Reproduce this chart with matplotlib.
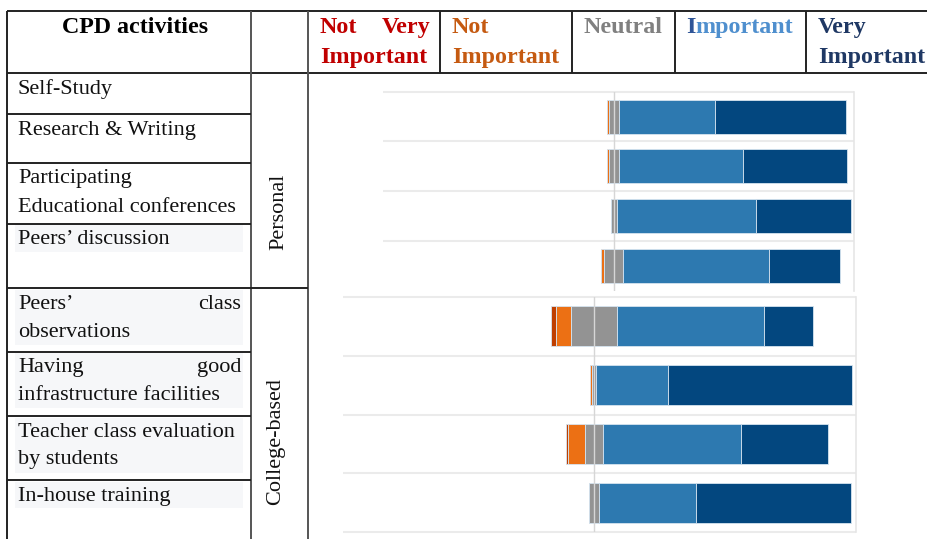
import numpy as np
import matplotlib
matplotlib.use("Agg")
import matplotlib.pyplot as plt
from matplotlib.patches import Rectangle

# ---------------- data (percent of respondents) ----------------
levels = ["Not Very Important", "Not Important", "Neutral", "Important", "Very Important"]
bar_colors = ["#BF3F00", "#EC7014", "#939393", "#2D79B0", "#03477F"]
head_colors = ["#C00000", "#C55A11", "#808080", "#4F8FCE", "#1F3864"]

groups = ["Personal", "College-based"]

personal_items = ["Self-Study", "Research & Writing",
                  "Participating Educational conferences", "Peers\u2019 discussion"]
personal_nvi = [0.0, 0.0, 0.0, 0.0]
personal_ni = [0.9, 0.8, 0.0, 1.5]
personal_neu = [4.3, 3.8, 2.5, 7.9]
personal_imp = [40.2, 52.1, 58.0, 60.6]
personal_vimp = [54.6, 43.3, 39.5, 30.0]

college_items = ["Peers\u2019 class observations", "Having good infrastructure facilities",
                 "Teacher class evaluation by students", "In-house training"]
college_nvi = [1.9, 0.0, 0.8, 0.0]
college_ni = [6.0, 0.8, 6.5, 0.0]
college_neu = [17.2, 1.3, 6.8, 4.0]
college_imp = [56.4, 27.7, 52.8, 36.8]
college_vimp = [18.5, 70.2, 33.1, 59.2]

# ---------------- figure ----------------
W, H = 927, 539
fig = plt.figure(figsize=(W / 100, H / 100), dpi=100)
fig.patch.set_facecolor("white")

ax0 = fig.add_axes([0, 0, 1, 1])
ax0.set_xlim(0, W)
ax0.set_ylim(H, 0)
ax0.axis("off")

SERIF = ["Liberation Serif", "DejaVu Serif"]
BODY = 16
HEAD = 17.3

lc = "#222222"
lw = 1.4


def hline(y, x0, x1, color=lc):
    ax0.plot([x0, x1], [y, y], color=color, lw=lw, solid_capstyle="butt")


def vline(x, y0, y1, color=lc):
    ax0.plot([x, x], [y0, y1], color=color, lw=lw, solid_capstyle="butt")


# light backgrounds behind some cells' text
for (y0, y1) in [(224, 252), (290, 345), (353, 408), (418, 473), (482, 508)]:
    ax0.add_patch(Rectangle((15, y0), 228, y1 - y0, facecolor="#F6F7F9",
                            edgecolor="none", zorder=0))

# table grid
hline(10.5, 7, W)
hline(72.5, 7, W)
for x in [440, 572, 675, 806]:
    vline(x, 10.5, 72.5)
vline(7, 10.5, H)
vline(251, 10.5, H, color="#555555")
vline(308, 10.5, H, color="#555555")
for y in [114, 163, 224, 352, 416, 480]:
    hline(y, 7, 251)
hline(288, 7, 308)


def head(x, y, s, color, ha="left"):
    return ax0.text(x, y, s, family=SERIF, fontsize=HEAD, fontweight="bold",
                    ha=ha, va="baseline", color=color)


# header texts
head(135, 33, "CPD activities", "black", ha="center")
head(320, 33, "Not", head_colors[0])
head(430, 33, "Very", head_colors[0], ha="right")
head(320, 63, "Important", head_colors[0])
head(452, 33, "Not", head_colors[1])
head(452, 63, "Important", head_colors[1])
head(584, 33, "Neutral", head_colors[2])
t_i = head(686, 33, "I", "#2F5597")
renderer = fig.canvas.get_renderer()
x_after = t_i.get_window_extent(renderer=renderer).x1
head(x_after, 33, "mportant", head_colors[3])
head(818, 33, "Very", head_colors[4])
head(818, 63, "Important", head_colors[4])


# row label texts
def body(x, y, s, ha="left"):
    ax0.text(x, y, s, family=SERIF, fontsize=BODY, ha=ha, va="baseline", color="#111111")


LX, RX = 18, 241
body(LX, 94, "Self-Study")
body(LX, 135, "Research & Writing")
body(LX, 183, "Participating")
body(LX, 212, "Educational conferences")
body(LX, 244, "Peers\u2019 discussion")
body(LX, 309, "Peers\u2019")
body(RX, 309, "class", ha="right")
body(LX, 337, "observations")
body(LX, 372, "Having")
body(RX, 372, "good", ha="right")
body(LX, 400, "infrastructure facilities")
body(LX, 437, "Teacher class evaluation")
body(LX, 464, "by students")
body(LX, 501, "In-house training")

ax0.text(279, 212, groups[0], family=SERIF, fontsize=BODY, rotation=90,
         ha="center", va="center", color="#111111")
ax0.text(276, 442, groups[1], family=SERIF, fontsize=BODY, rotation=90,
         ha="center", va="center", color="#111111")


# ---------------- charts ----------------
def px_axes(x0, y0, x1, y1):
    return fig.add_axes([x0 / W, 1 - y1 / H, (x1 - x0) / W, (y1 - y0) / H])


def draw(ax, series, xlim, bar_h, bounds):
    series = [np.asarray(s, dtype=float) for s in series]
    n = len(series[0])
    y = np.arange(n)
    left = -(series[0] + series[1] + series[2] / 2.0)
    for s, c in zip(series, bar_colors):
        ax.barh(y, s, left=left, height=bar_h, color=c, edgecolor="#D6E4F0",
                linewidth=0.6, zorder=2)
        left = left + s
    ax.set_ylim(n - 0.5, -0.5)
    ax.set_xlim(*xlim)
    ax.hlines(bounds, xlim[0], xlim[1], color="#EBEBEB", lw=1.5, zorder=1, clip_on=False)
    ax.axvline(0, color="#D6D6D6", lw=1.0, zorder=3)
    for side in ["top", "left", "bottom"]:
        ax.spines[side].set_visible(False)
    ax.spines["right"].set_color("#E6E6E6")
    ax.spines["right"].set_linewidth(1.2)
    ax.set_xticks([])
    ax.set_yticks([])
    ax.patch.set_alpha(0)


ax1 = px_axes(383, 91.7, 854, 290.5)
draw(ax1, [personal_nvi, personal_ni, personal_neu, personal_imp, personal_vimp],
     (-96.4, 100.2), 0.684, [-0.5, 0.5, 1.5, 2.5])

ax2 = px_axes(343, 296.7, 856, 532.3)
draw(ax2, [college_nvi, college_ni, college_neu, college_imp, college_vimp],
     (-95.9, 100.1), 0.68, [-0.5, 0.5, 1.5, 2.5, 3.5])

fig.savefig("out.png", dpi=100)
